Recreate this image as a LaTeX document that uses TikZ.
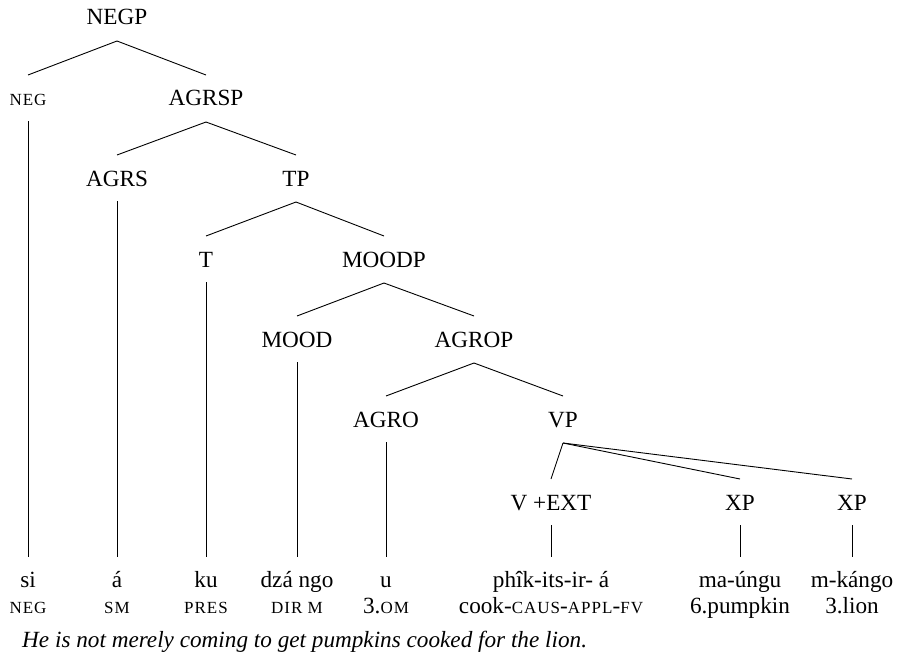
\documentclass[tikz,border=0pt]{standalone}
\usepackage{fontspec}
\setmainfont{Liberation Serif}
\newcommand\fsc[1]{{\fontsize{17}{18}\selectfont\addfontfeatures{LetterSpace=6}#1}}
\begin{document}
\begin{tikzpicture}[x=1pt,y=-1pt,
  lbl/.style={anchor=base,inner sep=0pt,font=\fontsize{23.2}{25}\selectfont},
  edge/.style={line width=0.9pt,black}]
\useasboundingbox (0,0) rectangle (901,658);
% tree labels
\node[lbl] (negp) at (117,25) {NEGP};
\node[lbl] (neg) at (28,106) {\fsc{NEG}};
\node[lbl] (agrsp) at (206,106) {AGRSP};
\node[lbl] (agrs) at (117,186) {AGRS};
\node[lbl] (tp) at (296,186) {TP};
\node[lbl] (t) at (206,267) {T};
\node[lbl] (moodp) at (384,267) {MOODP};
\node[lbl] (mood) at (297,347) {MOOD};
\node[lbl] (agrop) at (474,347) {AGROP};
\node[lbl] (agro) at (386,427) {AGRO};
\node[lbl] (vp) at (563,427) {VP};
\node[lbl] (vext) at (551,510) {V +EXT};
\node[lbl] (xpa) at (740,510) {XP};
\node[lbl] (xpb) at (852,510) {XP};
% words
\node[lbl] (w1) at (28,587) {si};
\node[lbl] (w2) at (117,587) {á};
\node[lbl] (w3) at (206,587) {ku};
\node[lbl] (w4) at (297,587) {dzá ngo};
\node[lbl] (w5) at (386,587) {u};
\node[lbl] (w6) at (551,587) {phîk-its-ir- á};
\node[lbl] (w7) at (740,587) {ma-úngu};
\node[lbl] (w8) at (852,587) {m-kángo};
% glosses
\node[lbl] (g1) at (28,613) {\fsc{NEG}};
\node[lbl] (g2) at (117,613) {\fsc{SM}};
\node[lbl] (g3) at (206,613) {\fsc{PRES}};
\node[lbl] (g4) at (297,613) {\fsc{DIR M}};
\node[lbl] (g5) at (386,613) {3.\fsc{OM}};
\node[lbl] (g6) at (551,613) {cook-\fsc{CAUS}-\fsc{APPL}-\fsc{FV}};
\node[lbl] (g7) at (740,613) {6.pumpkin};
\node[lbl] (g8) at (852,613) {3.lion};
% translation
\node[lbl,anchor=base west] (tr) at (22,647) {\itshape He is not merely coming to get pumpkins cooked for the lion.};
% branches
\foreach \p/\c in {negp/neg,negp/agrsp,agrsp/agrs,agrsp/tp,tp/t,tp/moodp,moodp/mood,moodp/agrop,agrop/agro,agrop/vp,vp/vext,vp/xpa,vp/xpb}
  \draw[edge] ([yshift=-16pt]\p.base) -- ([yshift=31pt]\c.base);
% vertical lines to words
\foreach \c/\w in {neg/w1,agrs/w2,t/w3,mood/w4,agro/w5,vext/w6,xpa/w7,xpb/w8}
  \draw[edge] ([yshift=-15pt]\c.base) -- ([yshift=30pt]\w.base);
\end{tikzpicture}
\end{document}
